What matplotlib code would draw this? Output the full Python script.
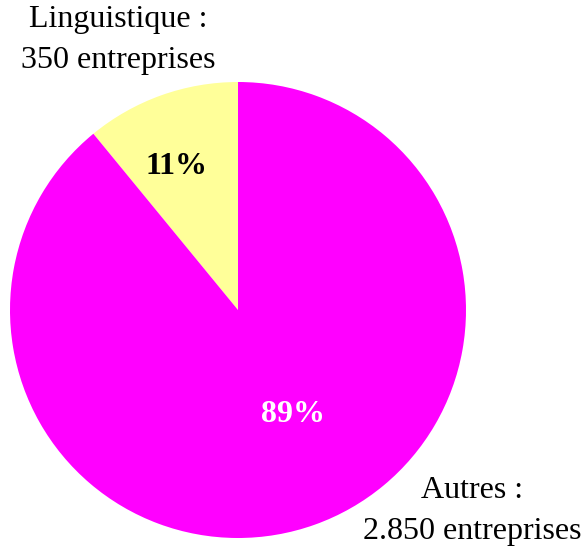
import matplotlib
matplotlib.use("Agg")
import matplotlib.pyplot as plt

categories = ["Linguistique", "Autres"]
values = [350, 2850]
labels = ["Linguistique :\n350 entreprises", "Autres :\n2.850 entreprises"]
colors = ["#FFFF99", "#FF00FF"]

plt.rcParams['font.family'] = ['Liberation Serif', 'DejaVu Serif']

fig = plt.figure(figsize=(5.84, 5.49), dpi=100)
ax = fig.add_axes([0, 0, 1, 1])
cx, cy, r = 238, 549 - 310, 228
wedges, texts, autotexts = ax.pie(values, colors=colors, startangle=90, counterclock=True,
                                  center=(cx, cy), radius=r, autopct='%1.0f%%',
                                  pctdistance=0.6, textprops=dict(fontsize=23, fontweight='bold'))
ax.set_xlim(0, 584)
ax.set_ylim(0, 549)
ax.set_aspect('equal')
ax.axis('off')

autotexts[0].set_position((176, 549 - 166))
autotexts[0].set_color('black')
autotexts[1].set_position((293, 549 - 414))
autotexts[1].set_color('white')
for t in autotexts:
    t.set_ha('center'); t.set_va('center')

ax.text(118, 549 - 40, labels[0], ha='center', va='center', fontsize=23, linespacing=1.55)
ax.text(472, 549 - 511, labels[1], ha='center', va='center', fontsize=23, linespacing=1.55)

fig.savefig("out.png", dpi=100)
